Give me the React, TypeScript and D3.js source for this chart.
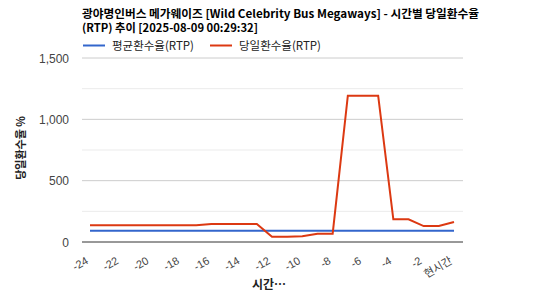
import React from "react";
import * as d3 from "d3";

const hours = [-24,-23,-22,-21,-20,-19,-18,-17,-16,-15,-14,-13,-12,-11,-10,-9,-8,-7,-6,-5,-4,-3,-2,-1,0];
const dailyRtp = [136,136,136,136,136,136,136,136,147,147,147,147,43,43,46,68,68,1193,1193,1193,185,185,130,130,163];
const avgRtp = [92,92,92,92,92,92,92,92,92,92,92,92,92,92,92,92,92,92,92,92,92,92,92,92,92];
const xTickValues = [-24,-22,-20,-18,-16,-14,-12,-10,-8,-6,-4,-2,0];
const xTickLabels = ["-24","-22","-20","-18","-16","-14","-12","-10","-8","-6","-4","-2","현시간"];
const yTicks = [0, 500, 1000, 1500];
const yMinor = [250, 750, 1250];
const titleLines = ["광야명인버스 메가웨이즈 [Wild Celebrity Bus Megaways] - 시간별 당일환수율", "(RTP) 추이 [2025-08-09 00:29:32]"];
const titleWidths = [397, 176];
const seriesNames = ["평균환수율(RTP)", "당일환수율(RTP)"];
const colors = ["#3366cc", "#dc3912"];

const W = 544, H = 300;
const plotLeft = 82, plotRight = 463;
const font = "Arial, 'Liberation Sans', 'Noto Sans CJK KR', sans-serif";
const titleFont = "'Noto Sans CJK KR', sans-serif";

export default function App() {
  const x = d3.scaleLinear().domain([-24, 0]).range([90, 454]);
  const y = d3.scaleLinear().domain([0, 1500]).range([242, 58]);
  const line = d3.line<number>().x((_, i) => x(hours[i])).y(d => y(d));
  return (
    <svg width={W} height={H} style={{ position: "absolute", left: 0, top: 0, background: "#fff" }}>
      {titleLines.map((t, i) => (
        <text key={i} x={82} y={17.5 + i * 14} fontFamily={titleFont} fontSize={11.2} fontWeight={600} fill="#000"
          textLength={titleWidths[i]} lengthAdjust="spacingAndGlyphs">{t}</text>
      ))}
      {seriesNames.map((s, i) => {
        const lx = i === 0 ? 83 : 210;
        return (
          <g key={s}>
            <line x1={lx} x2={lx + 22} y1={45.5} y2={45.5} stroke={colors[i]} strokeWidth={2} />
            <text x={lx + 29} y={50} fontFamily={titleFont} fontSize={11.5} fill="#222">{s}</text>
          </g>
        );
      })}
      {yMinor.map(v => (
        <line key={v} x1={plotLeft} x2={plotRight} y1={y(v)} y2={y(v)} stroke="#ebebeb" strokeWidth={1} />
      ))}
      {yTicks.filter(v => v > 0).map(v => (
        <line key={v} x1={plotLeft} x2={plotRight} y1={y(v)} y2={y(v)} stroke="#cccccc" strokeWidth={1} />
      ))}
      {yTicks.map(v => (
        <text key={v} x={69} y={y(v) + 4.5} textAnchor="end" fontFamily={font} fontSize={12} fill="#444">{d3.format(",")(v)}</text>
      ))}
      <line x1={plotLeft} x2={plotRight} y1={y(0)} y2={y(0)} stroke="#333" strokeWidth={1} />
      <path d={line(avgRtp) || ""} fill="none" stroke={colors[0]} strokeWidth={2} />
      <path d={line(dailyRtp) || ""} fill="none" stroke={colors[1]} strokeWidth={2} />
      {xTickValues.map((v, i) => (
        <text key={v} transform={`translate(${x(v) - 1},${263}) rotate(-30)`} textAnchor="end" fontFamily={font} fontSize={11} fill="#444">{xTickLabels[i]}</text>
      ))}
      <text x={269} y={289} textAnchor="middle" fontFamily={titleFont} fontSize={12} fontWeight={700} fill="#222">시간…</text>
      <text transform={`translate(25,148) rotate(-90)`} textAnchor="middle" fontFamily={titleFont} fontSize={11} fontWeight={700} fill="#222">당일환수율 %</text>
    </svg>
  );
}
